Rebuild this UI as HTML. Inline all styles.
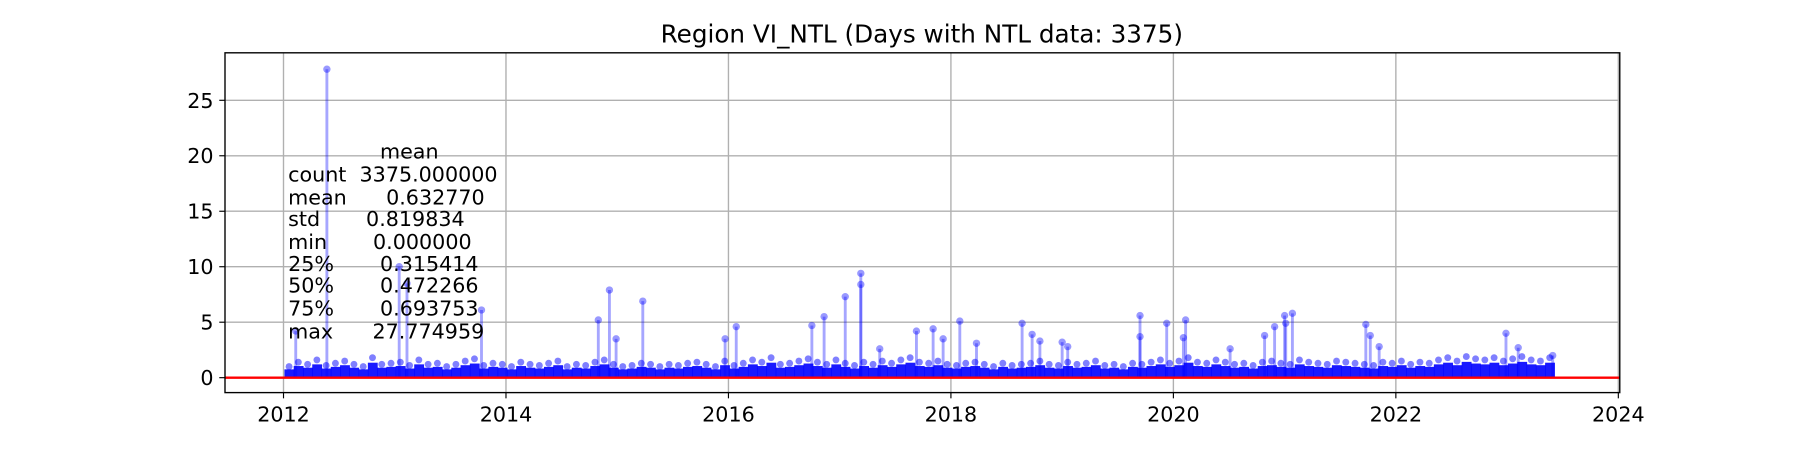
<!DOCTYPE html>
<html><head><meta charset="utf-8"><style>
body{margin:0;background:#fff;}
svg{display:block;font-family:"DejaVu Sans","Liberation Sans",sans-serif;}
</style></head><body>
<svg id="chart" width="1800" height="450" viewBox="0 0 1568 392" xmlns="http://www.w3.org/2000/svg">
<text x="803" y="37" font-size="21.5" text-anchor="middle">Region VI_NTL (Days with NTL data: 3375)</text>
<g id="grid"></g>
<g id="marks"></g>
<line x1="196" x2="1411" y1="329" y2="329" stroke="#ff0000" stroke-width="2"/>
<g id="stats" font-size="18">
<text x="331" y="138">mean</text>
<text x="251" y="158" xml:space="preserve">count  3375.000000</text>
<text x="251" y="178" xml:space="preserve">mean      0.632770</text>
<text x="251" y="197" xml:space="preserve">std       0.819834</text>
<text x="251" y="217" xml:space="preserve">min       0.000000</text>
<text x="251" y="236" xml:space="preserve">25%       0.315414</text>
<text x="251" y="255" xml:space="preserve">50%       0.472266</text>
<text x="251" y="275" xml:space="preserve">75%       0.693753</text>
<text x="251" y="295" xml:space="preserve">max      27.774959</text>
</g>
<rect x="196" y="46" width="1215" height="296" fill="none" stroke="#000" stroke-width="1.2"/>
<g id="axes"></g>
</svg>
<script>
const xTicks=[2012,2014,2016,2018,2020,2022,2024];
const yTicks=[0,5,10,15,20,25];
const spikeDates=[2012.11,2012.39,2013.04,2013.11,2013.78,2014.83,2014.93,2014.99,2015.23,2015.97,2016.07,2016.75,2016.86,2017.05,2017.19,2017.19,2017.36,2017.69,2017.84,2017.93,2018.08,2018.23,2018.64,2018.73,2018.80,2019.00,2019.05,2019.70,2019.70,2019.94,2020.11,2020.09,2020.51,2020.82,2020.91,2021.00,2021.01,2021.07,2021.73,2021.77,2021.85,2022.99,2023.10,2023.41];
const spikeValues=[4.2,27.8,10.0,8.5,6.1,5.2,7.9,3.5,6.9,3.5,4.6,4.7,5.5,7.3,9.4,8.4,2.6,4.2,4.4,3.5,5.1,3.1,4.9,3.9,3.3,3.2,2.8,5.6,3.7,4.9,5.2,3.6,2.6,3.8,4.6,5.6,4.9,5.8,4.8,3.8,2.8,4.0,2.7,2.0];
const baseStart=2012.05;
const baseValues=[1.0,1.4,1.2,1.6,1.1,1.3,1.5,1.2,1.0,1.8,1.2,1.3,1.4,1.1,1.6,1.2,1.3,1.0,1.2,1.5,1.7,1.1,1.3,1.2,1.0,1.4,1.2,1.1,1.3,1.5,1.0,1.2,1.1,1.4,1.6,1.2,1.0,1.1,1.3,1.2,1.0,1.2,1.1,1.3,1.4,1.2,1.0,1.5,1.1,1.3,1.6,1.4,1.8,1.2,1.3,1.5,1.7,1.4,1.2,1.6,1.3,1.1,1.4,1.2,1.5,1.3,1.6,1.8,1.4,1.3,1.5,1.2,1.1,1.3,1.4,1.2,1.0,1.3,1.1,1.2,1.3,1.5,1.2,1.1,1.4,1.2,1.3,1.5,1.1,1.2,1.0,1.3,1.2,1.4,1.6,1.3,1.5,1.8,1.4,1.3,1.6,1.4,1.2,1.3,1.1,1.4,1.5,1.3,1.2,1.6,1.4,1.3,1.2,1.5,1.4,1.3,1.2,1.1,1.4,1.3,1.5,1.2,1.4,1.3,1.6,1.8,1.5,1.9,1.7,1.6,1.8,1.5,1.7,1.9,1.6,1.5,1.8];
const X0=196,X1=1411,Y0=46,Y1=342,xmin=2011.474,xmax=2024.013,ymin=-1.345,ymax=29.28;
const sx=v=>X0+(v-xmin)/(xmax-xmin)*(X1-X0);
const sy=v=>Y1-(v-ymin)/(ymax-ymin)*(Y1-Y0);
const NS="http://www.w3.org/2000/svg";
function mk(tag,attrs,parent){const e=document.createElementNS(NS,tag);for(const k in attrs)e.setAttribute(k,attrs[k]);parent.appendChild(e);return e;}
const grid=document.getElementById('grid'),axes=document.getElementById('axes'),marks=document.getElementById('marks');
xTicks.forEach(t=>{const x=sx(t);
 const g=mk('line',{x1:x,x2:x,y1:Y0,y2:Y1,stroke:'#b0b0b0','stroke-width':1.2},grid);
 
 
 mk('line',{x1:x,x2:x,y1:Y1,y2:Y1+5,stroke:'#000'},axes);
 const l=mk('text',{x:x,y:Y1+25,'font-size':18,'text-anchor':'middle'},axes);l.textContent=t;
 
 });
yTicks.forEach(t=>{const y=sy(t);
 const g=mk('line',{x1:X0,x2:X1,y1:y,y2:y,stroke:'#b0b0b0','stroke-width':1.2},grid);
 
 
 mk('line',{x1:X0-5,x2:X0,y1:y,y2:y,stroke:'#000'},axes);
 const l=mk('text',{x:X0-10,y:y+6.5,'font-size':18,'text-anchor':'end'},axes);l.textContent=t;
 
 });
const step=1/12,w=sx(baseStart+step)-sx(baseStart);
baseValues.forEach((v,i)=>{const d=baseStart+i*step;const x=sx(d);
 const r=mk('rect',{x:x-w/2,y:sy(v*0.75),width:w+0.5,height:sy(0)-sy(v*0.75),fill:'#0000ff','fill-opacity':0.9},marks);
 
 
 const c=mk('circle',{cx:x,cy:sy(v),r:3,fill:'#0000ff','fill-opacity':0.5},marks);
 
 });
spikeDates.forEach((d,i)=>{const x=sx(d),v=spikeValues[i];
 const s=mk('line',{x1:x,x2:x,y1:sy(0),y2:sy(v),stroke:'#0000ff','stroke-opacity':0.35,'stroke-width':2.5},marks);
 
 
 const c=mk('circle',{cx:x,cy:sy(v),r:3.2,fill:'#0000ff','fill-opacity':0.4},marks);
 
 });
</script>
</body></html>
